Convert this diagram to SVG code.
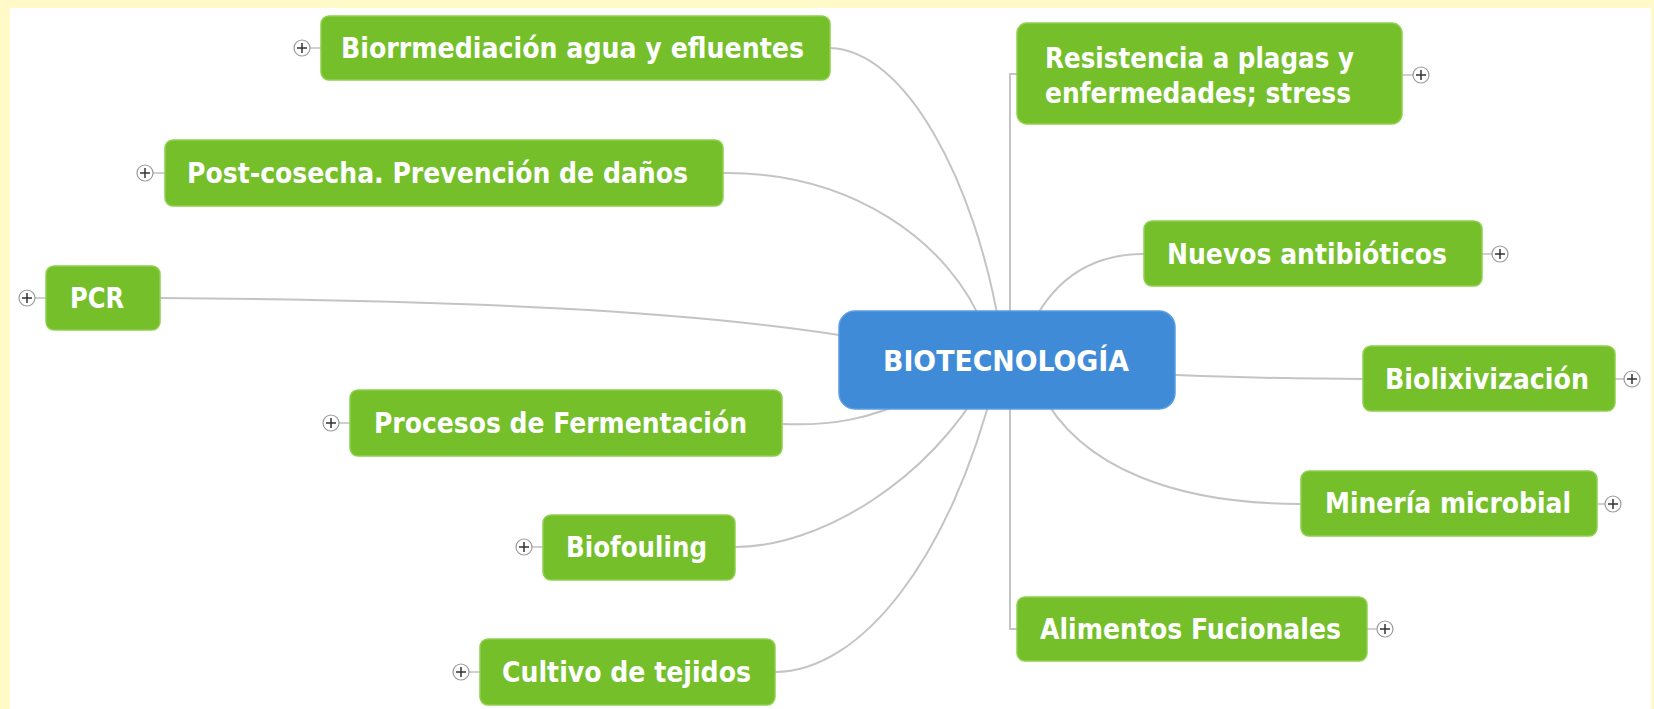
<svg xmlns="http://www.w3.org/2000/svg" width="1654" height="709" viewBox="0 0 1654 709">
<style>
.bg{fill:#fffac8}
.box{fill:#74bf2a;stroke:#8fd04f;stroke-width:1.5}
.center{fill:#3f8bd8;stroke:#5a9de0;stroke-width:1.5}
.t{font-family:"DejaVu Sans Condensed","DejaVu Sans",sans-serif;font-weight:bold;font-size:29px;fill:#ffffff}
.c{fill:none;stroke:#c4c4c4;stroke-width:2}
.pc{fill:#ffffff;stroke:#9a9a9a;stroke-width:1.2}
.pl{stroke:#333333;stroke-width:1.5}
.st{stroke:#b0b0b0;stroke-width:1.2}
</style>
<rect class="bg" x="0" y="0" width="1654" height="709"/>
<rect x="10" y="8" width="1641" height="701" fill="#ffffff"/>
<g id="connectors">
<path class="c" d="M830,48 C905,50 975,180 1000,330"/>
<path class="c" d="M723,173 C850,172 950,240 985,330"/>
<path class="c" d="M160,298 C450,300 700,310 870,340"/>
<path class="c" d="M782,424 C830,426 870,420 920,395"/>
<path class="c" d="M735,547 C820,547 930,480 985,380"/>
<path class="c" d="M775,672 C860,672 950,560 995,380"/>
<path class="c" d="M1017,74 H1010 V629 H1017"/>
<path class="c" d="M1144,254 C1080,254 1045,290 1025,340"/>
<path class="c" d="M1363,379 C1250,379 1150,374 1100,372"/>
<path class="c" d="M1301,504 C1180,504 1080,470 1040,390"/>
</g>
<g id="n-biotecnologia">
<rect class="center" x="839" y="311" width="336" height="98" rx="16"/>
<text class="t" x="883" y="371" textLength="246" lengthAdjust="spacingAndGlyphs">BIOTECNOLOGÍA</text>
</g>
<g id="n-biorremediacion">
<line class="st" x1="310" y1="48" x2="321" y2="48"/>
<circle class="pc" cx="302" cy="48" r="8"/>
<path class="pl" d="M297,48 H307 M302,43 V53"/>
<rect class="box" x="321" y="16" width="509" height="64" rx="8"/>
<text class="t" x="341" y="58" textLength="463" lengthAdjust="spacingAndGlyphs">Biorrmediación agua y efluentes</text>
</g>
<g id="n-postcosecha">
<line class="st" x1="153" y1="173" x2="165" y2="173"/>
<circle class="pc" cx="145" cy="173" r="8"/>
<path class="pl" d="M140,173 H150 M145,168 V178"/>
<rect class="box" x="165" y="140" width="558" height="66" rx="8"/>
<text class="t" x="187" y="183" textLength="501" lengthAdjust="spacingAndGlyphs">Post-cosecha. Prevención de daños</text>
</g>
<g id="n-pcr">
<line class="st" x1="35" y1="298" x2="46" y2="298"/>
<circle class="pc" cx="27" cy="298" r="8"/>
<path class="pl" d="M22,298 H32 M27,293 V303"/>
<rect class="box" x="46" y="266" width="114" height="64" rx="8"/>
<text class="t" x="70" y="308" textLength="54" lengthAdjust="spacingAndGlyphs">PCR</text>
</g>
<g id="n-fermentacion">
<line class="st" x1="339" y1="423" x2="350" y2="423"/>
<circle class="pc" cx="331" cy="423" r="8"/>
<path class="pl" d="M326,423 H336 M331,418 V428"/>
<rect class="box" x="350" y="390" width="432" height="66" rx="8"/>
<text class="t" x="374" y="433" textLength="373" lengthAdjust="spacingAndGlyphs">Procesos de Fermentación</text>
</g>
<g id="n-biofouling">
<line class="st" x1="532" y1="547" x2="543" y2="547"/>
<circle class="pc" cx="524" cy="547" r="8"/>
<path class="pl" d="M519,547 H529 M524,542 V552"/>
<rect class="box" x="543" y="515" width="192" height="65" rx="8"/>
<text class="t" x="566" y="557" textLength="141" lengthAdjust="spacingAndGlyphs">Biofouling</text>
</g>
<g id="n-cultivo">
<line class="st" x1="469" y1="672" x2="480" y2="672"/>
<circle class="pc" cx="461" cy="672" r="8"/>
<path class="pl" d="M456,672 H466 M461,667 V677"/>
<rect class="box" x="480" y="639" width="295" height="66" rx="8"/>
<text class="t" x="502" y="682" textLength="249" lengthAdjust="spacingAndGlyphs">Cultivo de tejidos</text>
</g>
<g id="n-resistencia">
<line class="st" x1="1402" y1="75" x2="1413" y2="75"/>
<circle class="pc" cx="1421" cy="75" r="8"/>
<path class="pl" d="M1416,75 H1426 M1421,70 V80"/>
<rect class="box" x="1017" y="23" width="385" height="101" rx="10"/>
<text class="t" x="1045" y="68" textLength="309" lengthAdjust="spacingAndGlyphs">Resistencia a plagas y</text>
<text class="t" x="1045" y="103" textLength="306" lengthAdjust="spacingAndGlyphs">enfermedades; stress</text>
</g>
<g id="n-antibioticos">
<line class="st" x1="1482" y1="254" x2="1492" y2="254"/>
<circle class="pc" cx="1500" cy="254" r="8"/>
<path class="pl" d="M1495,254 H1505 M1500,249 V259"/>
<rect class="box" x="1144" y="221" width="338" height="65" rx="8"/>
<text class="t" x="1167" y="264" textLength="280" lengthAdjust="spacingAndGlyphs">Nuevos antibióticos</text>
</g>
<g id="n-biolixivizacion">
<line class="st" x1="1615" y1="379" x2="1624" y2="379"/>
<circle class="pc" cx="1632" cy="379" r="8"/>
<path class="pl" d="M1627,379 H1637 M1632,374 V384"/>
<rect class="box" x="1363" y="346" width="252" height="65" rx="8"/>
<text class="t" x="1385" y="389" textLength="204" lengthAdjust="spacingAndGlyphs">Biolixivización</text>
</g>
<g id="n-mineria">
<line class="st" x1="1597" y1="504" x2="1605" y2="504"/>
<circle class="pc" cx="1613" cy="504" r="8"/>
<path class="pl" d="M1608,504 H1618 M1613,499 V509"/>
<rect class="box" x="1301" y="471" width="296" height="65" rx="8"/>
<text class="t" x="1325" y="513" textLength="246" lengthAdjust="spacingAndGlyphs">Minería microbial</text>
</g>
<g id="n-alimentos">
<line class="st" x1="1367" y1="629" x2="1377" y2="629"/>
<circle class="pc" cx="1385" cy="629" r="8"/>
<path class="pl" d="M1380,629 H1390 M1385,624 V634"/>
<rect class="box" x="1017" y="597" width="350" height="64" rx="8"/>
<text class="t" x="1040" y="639" textLength="301" lengthAdjust="spacingAndGlyphs">Alimentos Fucionales</text>
</g>
</svg>
